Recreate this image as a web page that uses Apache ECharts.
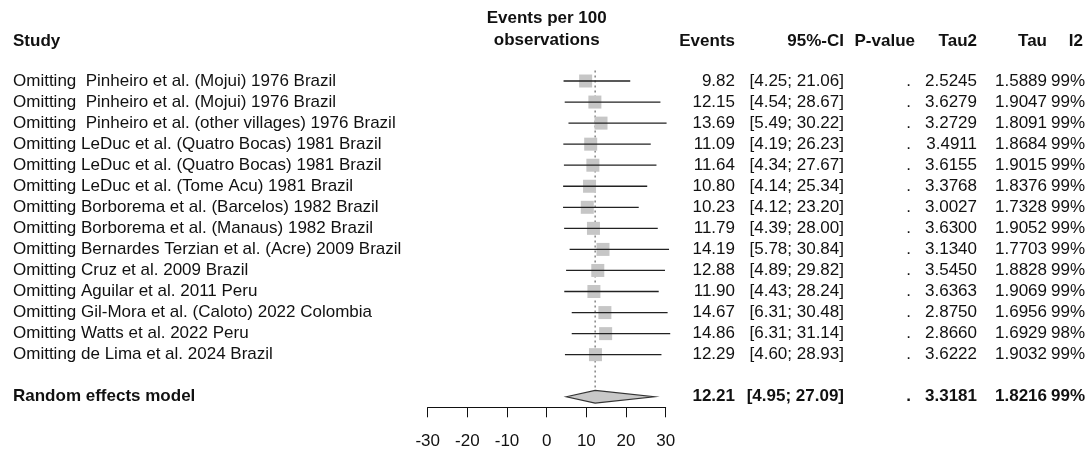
<!DOCTYPE html>
<html>
<head>
<meta charset="utf-8">
<script src="https://cdn.jsdelivr.net/npm/echarts@6/dist/echarts.min.js"></script>
<style>
html,body{margin:0;padding:0;background:#fff;}
#chart{width:1088px;height:452px;}
</style>
</head>
<body>
<div id="chart"></div>
<script>
// ---- data ----
const studies = [
  "Omitting  Pinheiro et al. (Mojui) 1976 Brazil",
  "Omitting  Pinheiro et al. (Mojui) 1976 Brazil",
  "Omitting  Pinheiro et al. (other villages) 1976 Brazil",
  "Omitting LeDuc et al. (Quatro Bocas) 1981 Brazil",
  "Omitting LeDuc et al. (Quatro Bocas) 1981 Brazil",
  "Omitting LeDuc et al. (Tome Acu) 1981 Brazil",
  "Omitting Borborema et al. (Barcelos) 1982 Brazil",
  "Omitting Borborema et al. (Manaus) 1982 Brazil",
  "Omitting Bernardes Terzian et al. (Acre) 2009 Brazil",
  "Omitting Cruz et al. 2009 Brazil",
  "Omitting Aguilar et al. 2011 Peru",
  "Omitting Gil-Mora et al. (Caloto) 2022 Colombia",
  "Omitting Watts et al. 2022 Peru",
  "Omitting de Lima et al. 2024 Brazil"
];
const events = [9.82, 12.15, 13.69, 11.09, 11.64, 10.80, 10.23, 11.79, 14.19, 12.88, 11.90, 14.67, 14.86, 12.29];
const lower  = [4.25, 4.54, 5.49, 4.19, 4.34, 4.14, 4.12, 4.39, 5.78, 4.89, 4.43, 6.31, 6.31, 4.60];
const upper  = [21.06, 28.67, 30.22, 26.23, 27.67, 25.34, 23.20, 28.00, 30.84, 29.82, 28.24, 30.48, 31.14, 28.93];
const pValues = [".", ".", ".", ".", ".", ".", ".", ".", ".", ".", ".", ".", ".", "."];
const tau2 = ["2.5245", "3.6279", "3.2729", "3.4911", "3.6155", "3.3768", "3.0027", "3.6300", "3.1340", "3.5450", "3.6363", "2.8750", "2.8660", "3.6222"];
const tau  = ["1.5889", "1.9047", "1.8091", "1.8684", "1.9015", "1.8376", "1.7328", "1.9052", "1.7703", "1.8828", "1.9069", "1.6956", "1.6929", "1.9032"];
const i2   = ["99%", "99%", "99%", "99%", "99%", "99%", "99%", "99%", "99%", "99%", "99%", "99%", "98%", "99%"];

const summaryLabel = "Random effects model";
const summaryEst = 12.21;
const summaryLower = 4.95;
const summaryUpper = 27.09;
const summaryP = ".";
const summaryTau2 = "3.3181";
const summaryTau = "1.8216";
const summaryI2 = "99%";

const xTicks = [-30, -20, -10, 0, 10, 20, 30];
const headers = ["Study", "Events", "95%-CI", "P-value", "Tau2", "Tau", "I2"];
const plotTitle = ["Events per 100", "observations"];

// ---- layout (not data) ----
const FONT = "'Liberation Sans', Arial, Helvetica, sans-serif";
const FS = 17;
const SUMMARY_ROW = studies.length + 2;
const COL = {study: 13, events: 735, ci: 844, p: 911, tau2: 977, tau: 1047, i2: 1085};

function fmt2(v){ return v.toFixed(2); }
function ciText(l,u){ return "[" + fmt2(l) + "; " + fmt2(u) + "]"; }

function txt(x, y, text, align, bold){
  return {type:'text', x:x, y:y, silent:true,
    style:{text:text, fill:'#111', fontSize:FS, fontFamily:FONT,
      fontWeight: bold ? 'bold' : 'normal', align:align, verticalAlign:'middle'}};
}

const chart = echarts.init(document.getElementById('chart'), null, {renderer:'canvas'});

const rowData = studies.map((s,i)=>[events[i], i+1]);

const option = {
  animation:false,
  backgroundColor:'#ffffff',
  grid:{left:427.7, width:238, top:59.95, height:347.35},
  xAxis:{
    type:'value', position:'bottom', min:xTicks[0], max:xTicks[xTicks.length-1], interval:10,
    axisLine:{show:true, onZero:false, lineStyle:{color:'#111', width:1}},
    axisTick:{show:true, inside:false, length:10, lineStyle:{color:'#111', width:1}},
    axisLabel:{show:true, color:'#111', fontSize:FS, fontFamily:FONT, margin:26,
      formatter:function(v){ return String(v); }},
    splitLine:{show:false}
  },
  yAxis:{type:'value', min:0, max:SUMMARY_ROW+0.5, inverse:true, show:false},
  graphic:[
    txt(COL.study, 41.7, headers[0], 'left', true),
    txt(546.7, 18.5, plotTitle[0], 'center', true),
    txt(546.7, 40.5, plotTitle[1], 'center', true),
    txt(COL.events, 41.7, headers[1], 'right', true),
    txt(COL.ci, 41.7, headers[2], 'right', true),
    txt(915, 41.7, headers[3], 'right', true),
    txt(COL.tau2, 41.7, headers[4], 'right', true),
    txt(COL.tau, 41.7, headers[5], 'right', true),
    txt(1083, 41.7, headers[6], 'right', true)
  ],
  series:[
    { // dotted reference line at summary estimate
      type:'custom', silent:true, z:1,
      data:[[summaryEst, 0]],
      renderItem:function(params, api){
        const p1 = api.coord([api.value(0), 0.5]);
        const p2 = api.coord([api.value(0), SUMMARY_ROW - 0.3]);
        return {type:'line', shape:{x1:p1[0], y1:p1[1], x2:p2[0], y2:p2[1]},
          style:{stroke:'#666', lineWidth:1.2, lineDash:[2,3]}};
      }
    },
    { // squares
      type:'scatter', silent:true, z:2,
      data:rowData, symbol:'rect', symbolSize:13,
      itemStyle:{color:'#c6c6c6', opacity:1}
    },
    { // CI lines
      type:'custom', silent:true, z:3,
      data:studies.map((s,i)=>[lower[i], upper[i], i+1]),
      renderItem:function(params, api){
        const a = api.coord([api.value(0), api.value(2)]);
        const b = api.coord([api.value(1), api.value(2)]);
        return {type:'line', shape:{x1:a[0], y1:a[1], x2:b[0], y2:b[1]},
          style:{stroke:'#222', lineWidth:1.3}};
      }
    },
    { // summary diamond
      type:'custom', silent:true, z:4,
      data:[[summaryLower, summaryEst, summaryUpper, SUMMARY_ROW]],
      renderItem:function(params, api){
        const r = api.value(3);
        const L = api.coord([api.value(0), r]);
        const T = api.coord([api.value(1), r - 0.3]);
        const R = api.coord([api.value(2), r]);
        const B = api.coord([api.value(1), r + 0.3]);
        return {type:'polygon', shape:{points:[L, T, R, B]},
          style:{fill:'#c8c8c8', stroke:'#333', lineWidth:1.2}};
      }
    },
    { // table text
      type:'custom', silent:true, z:5,
      data:studies.map((s,i)=>[0, i+1]).concat([[0, SUMMARY_ROW]]),
      renderItem:function(params, api){
        const i = params.dataIndex;
        const y = api.coord([0, api.value(1)])[1];
        const isSum = i === studies.length;
        const lab = isSum ? summaryLabel : studies[i];
        const ev = isSum ? fmt2(summaryEst) : fmt2(events[i]);
        const ci = isSum ? ciText(summaryLower, summaryUpper) : ciText(lower[i], upper[i]);
        const p = isSum ? summaryP : pValues[i];
        const t2 = isSum ? summaryTau2 : tau2[i];
        const t = isSum ? summaryTau : tau[i];
        const ii = isSum ? summaryI2 : i2[i];
        return {type:'group', children:[
          txt(COL.study, y, lab, 'left', isSum),
          txt(COL.events, y, ev, 'right', isSum),
          txt(COL.ci, y, ci, 'right', isSum),
          txt(COL.p, y, p, 'right', isSum),
          txt(COL.tau2, y, t2, 'right', isSum),
          txt(COL.tau, y, t, 'right', isSum),
          txt(COL.i2, y, ii, 'right', isSum)
        ]};
      }
    }
  ]
};
chart.setOption(option);
</script>
</body>
</html>
